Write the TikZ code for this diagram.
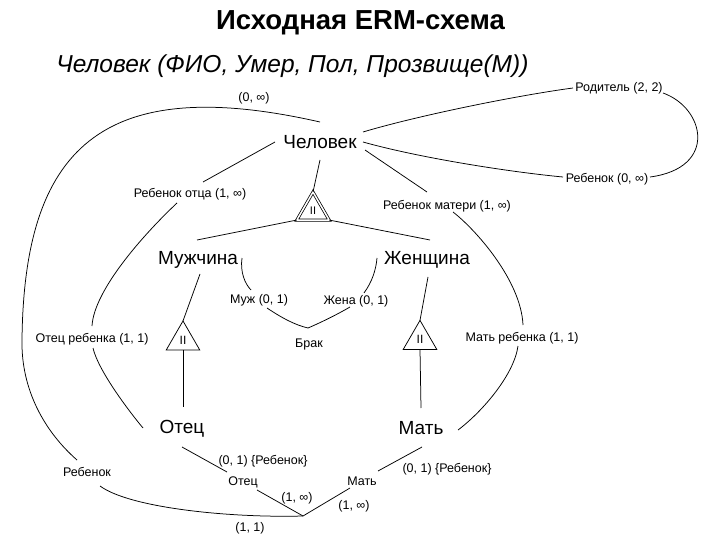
\documentclass[tikz,border=0pt]{standalone}
\usepackage{fontspec}
\setmainfont{Liberation Sans}
\usetikzlibrary{shapes.geometric}
\begin{document}
\begin{tikzpicture}[x=1pt,y=-1pt,line width=0.75pt,
  ent/.style={font=\fontsize{19}{21}\selectfont, text height=17pt, text depth=3.4pt, inner sep=0pt},
  lab/.style={font=\fontsize{12.5}{14}\selectfont, text height=11.5pt, text depth=2.55pt, inner sep=0pt},
  tri/.style={draw, regular polygon, regular polygon sides=3, minimum size=38.7pt, inner sep=0pt, outer sep=0pt, font=\fontsize{12}{12}\selectfont},
  ttl/.style={font=\fontsize{27.5}{30}\selectfont\bfseries, text height=24.5pt, text depth=4.8pt, inner sep=0pt},
  sub/.style={font=\fontsize{24.5}{28}\selectfont\itshape, text height=22.5pt, text depth=5pt, inner sep=0pt}
]
\fill[white] (0,0) rectangle (720,540);
\useasboundingbox (0,0) rectangle (720,540);

% titles
\node[ttl] (title) at (360.5,20) {Исходная ERM-схема};
\node[sub, anchor=west] (subtitle) at (56,64) {Человек (ФИО, Умер, Пол, Прозвище(М))};

% entities
\node[ent] (chel) at (320,142) {Человек};
\node[ent] (mu) at (198,258) {Мужчина};
\node[ent] (zh) at (427,258) {Женщина};
\node[ent] (ot) at (182,427) {Отец};
\node[ent] (mat) at (421,428) {Мать};

% specialisation triangles
\node[tri, double, double distance=1.5pt, minimum size=37.3pt, font=\fontsize{11}{11}\selectfont] (ttop) at (313,210.7) {II};
\node[tri] (tleft) at (183,340.3) {II};
\node[tri] (tright) at (420,339.7) {II};

% role labels
\node[lab] (inf0) at (254,97) {(0, ∞)};
\node[lab] (rod) at (619,87) {Родитель (2, 2)};
\node[lab] (reb0) at (607,178) {Ребенок (0, ∞)};
\node[lab] (rotca) at (190,193) {Ребенок отца (1, ∞)};
\node[lab] (rmat) at (447,205) {Ребенок матери (1, ∞)};
\node[lab] (muzh) at (259,299) {Муж (0, 1)};
\node[lab] (zhena) at (356,300) {Жена (0, 1)};
\node[lab] (otreb) at (92,338) {Отец ребенка (1, 1)};
\node[lab] (brak) at (309,343) {Брак};
\node[lab] (matreb) at (522,337) {Мать ребенка (1, 1)};
\node[lab] (c01l) at (263,460) {(0, 1) \{Ребенок\}};
\node[lab] (rebenok) at (87,472) {Ребенок};
\node[lab] (sotec) at (243,481) {Отец};
\node[lab] (smat) at (362,481) {Мать};
\node[lab] (c01r) at (447,468) {(0, 1) \{Ребенок\}};
\node[lab] (i1) at (297,497) {(1, ∞)};
\node[lab] (i2) at (354,505) {(1, ∞)};
\node[lab] (one1) at (250,527) {(1, 1)};
\coordinate (j) at (303,516);

% connectors
\draw ([shift={(0,-20)}]chel.center) .. controls (100,72) and (24,150) .. (22,340) .. controls (21,390) and (45,432) .. ([shift={(-10,-12)}]rebenok.center);
\draw ([shift={(13,14)}]rebenok.center) .. controls (130,508) and (230,518) .. (j);
\draw ([shift={(43,-10)}]chel.center) .. controls (420,115) and (520,95) .. ([shift={(-46,1)}]rod.center);
\draw ([shift={(44,6)}]rod.center) .. controls (705,108) and (718,168) .. ([shift={(43,-1)}]reb0.center);
\draw ([shift={(43,0)}]chel.center) .. controls (420,158) and (510,172) .. ([shift={(-44,-1)}]reb0.center);
\draw ([shift={(-45,0)}]chel.center) -- ([shift={(13,-11)}]rotca.center);
\draw ([shift={(45,8)}]chel.center) -- ([shift={(-20,-13)}]rmat.center);
\draw ([shift={(0,18)}]chel.center) -- (ttop.corner 1);
\draw (ttop.corner 2) -- ([shift={(-1,-18)}]mu.center);
\draw (ttop.corner 3) -- ([shift={(3,-18)}]zh.center);
\draw ([shift={(2,16)}]mu.center) -- (tleft.corner 1);
\draw (tleft.side 2) -- ([shift={(1,-20)}]ot.center);
\draw ([shift={(1,19)}]zh.center) -- (tright.corner 1);
\draw (tright.side 2) -- ([shift={(0,-20)}]mat.center);
\draw ([shift={(-13,10)}]rotca.center) .. controls (144,234) and (94,290) .. ([shift={(0,-12)}]otreb.center);
\draw ([shift={(1,10)}]otreb.center) .. controls (98,370) and (128,410) .. ([shift={(-39,1)}]ot.center);
\draw ([shift={(6,7)}]rmat.center) .. controls (475,229) and (521,280) .. ([shift={(1,-12)}]matreb.center);
\draw ([shift={(-4,9)}]matreb.center) .. controls (514,375) and (482,412) .. ([shift={(37,2)}]mat.center);
\draw ([shift={(44,0)}]mu.center) .. controls (240,272) and (245,284) .. ([shift={(-8,-9)}]muzh.center);
\draw ([shift={(8,9)}]muzh.center) .. controls (282,318) and (295,325) .. ([shift={(-1,-15)}]brak.center);
\draw ([shift={(-1,-15)}]brak.center) .. controls (322,322) and (338,314) .. ([shift={(-6,7)}]zhena.center);
\draw ([shift={(8,-7)}]zhena.center) .. controls (372,282) and (376,270) .. ([shift={(-50,0)}]zh.center);
\draw ([shift={(0,20)}]ot.center) -- ([shift={(-16,-9)}]sotec.center);
\draw ([shift={(14,9)}]sotec.center) -- (j);
\draw (j) -- ([shift={(-12,7)}]smat.center);
\draw ([shift={(16,-10)}]smat.center) -- ([shift={(1,19)}]mat.center);
\end{tikzpicture}
\end{document}
